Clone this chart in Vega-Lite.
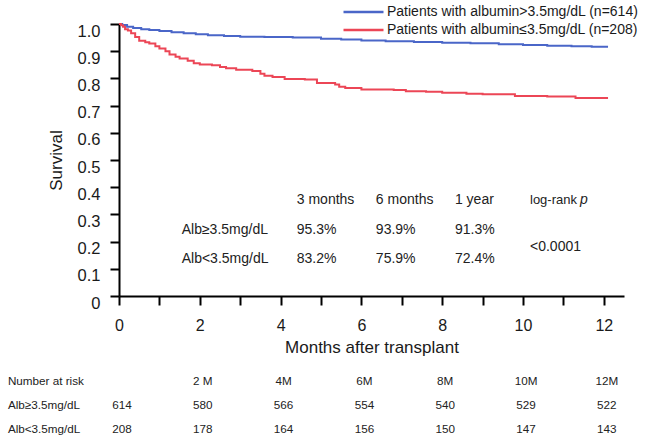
{
  "$schema": "https://vega.github.io/schema/vega-lite/v6.json",
  "width": 505,
  "height": 272,
  "autosize": "none",
  "padding": {"left": 119, "top": 24, "right": 25, "bottom": 147},
  "background": "white",
  "config": {
    "font": "Liberation Sans",
    "view": {"stroke": null},
    "text": {"font": "Liberation Sans", "color": "#222"}
  },
  "datasets": {
    "km": [
      {"group": "Patients with albumin>3.5mg/dL (n=614)", "month": 0, "survival": 1.0},
      {"group": "Patients with albumin>3.5mg/dL (n=614)", "month": 0.08, "survival": 0.996},
      {"group": "Patients with albumin>3.5mg/dL (n=614)", "month": 0.2, "survival": 0.99},
      {"group": "Patients with albumin>3.5mg/dL (n=614)", "month": 0.35, "survival": 0.985},
      {"group": "Patients with albumin>3.5mg/dL (n=614)", "month": 0.55, "survival": 0.981},
      {"group": "Patients with albumin>3.5mg/dL (n=614)", "month": 0.75, "survival": 0.978},
      {"group": "Patients with albumin>3.5mg/dL (n=614)", "month": 1.0, "survival": 0.974},
      {"group": "Patients with albumin>3.5mg/dL (n=614)", "month": 1.3, "survival": 0.97},
      {"group": "Patients with albumin>3.5mg/dL (n=614)", "month": 1.6, "survival": 0.966},
      {"group": "Patients with albumin>3.5mg/dL (n=614)", "month": 1.9, "survival": 0.962},
      {"group": "Patients with albumin>3.5mg/dL (n=614)", "month": 2.2, "survival": 0.959},
      {"group": "Patients with albumin>3.5mg/dL (n=614)", "month": 2.6, "survival": 0.956},
      {"group": "Patients with albumin>3.5mg/dL (n=614)", "month": 3.0, "survival": 0.953},
      {"group": "Patients with albumin>3.5mg/dL (n=614)", "month": 3.6, "survival": 0.952},
      {"group": "Patients with albumin>3.5mg/dL (n=614)", "month": 4.3, "survival": 0.95},
      {"group": "Patients with albumin>3.5mg/dL (n=614)", "month": 5.0, "survival": 0.946},
      {"group": "Patients with albumin>3.5mg/dL (n=614)", "month": 5.5, "survival": 0.943},
      {"group": "Patients with albumin>3.5mg/dL (n=614)", "month": 6.0, "survival": 0.939},
      {"group": "Patients with albumin>3.5mg/dL (n=614)", "month": 6.6, "survival": 0.937},
      {"group": "Patients with albumin>3.5mg/dL (n=614)", "month": 7.3, "survival": 0.934},
      {"group": "Patients with albumin>3.5mg/dL (n=614)", "month": 8.0, "survival": 0.931},
      {"group": "Patients with albumin>3.5mg/dL (n=614)", "month": 8.7, "survival": 0.929},
      {"group": "Patients with albumin>3.5mg/dL (n=614)", "month": 9.4, "survival": 0.926},
      {"group": "Patients with albumin>3.5mg/dL (n=614)", "month": 10.0, "survival": 0.923},
      {"group": "Patients with albumin>3.5mg/dL (n=614)", "month": 10.6, "survival": 0.92},
      {"group": "Patients with albumin>3.5mg/dL (n=614)", "month": 11.2, "survival": 0.918},
      {"group": "Patients with albumin>3.5mg/dL (n=614)", "month": 11.7, "survival": 0.916},
      {"group": "Patients with albumin>3.5mg/dL (n=614)", "month": 12.08, "survival": 0.913},
      {"group": "Patients with albumin≤3.5mg/dL (n=208)", "month": 0, "survival": 1.0},
      {"group": "Patients with albumin≤3.5mg/dL (n=208)", "month": 0.05, "survival": 0.995},
      {"group": "Patients with albumin≤3.5mg/dL (n=208)", "month": 0.1, "survival": 0.99},
      {"group": "Patients with albumin≤3.5mg/dL (n=208)", "month": 0.15, "survival": 0.981},
      {"group": "Patients with albumin≤3.5mg/dL (n=208)", "month": 0.22, "survival": 0.976},
      {"group": "Patients with albumin≤3.5mg/dL (n=208)", "month": 0.3, "survival": 0.966},
      {"group": "Patients with albumin≤3.5mg/dL (n=208)", "month": 0.4, "survival": 0.952},
      {"group": "Patients with albumin≤3.5mg/dL (n=208)", "month": 0.5, "survival": 0.938},
      {"group": "Patients with albumin≤3.5mg/dL (n=208)", "month": 0.65, "survival": 0.933},
      {"group": "Patients with albumin≤3.5mg/dL (n=208)", "month": 0.75, "survival": 0.928},
      {"group": "Patients with albumin≤3.5mg/dL (n=208)", "month": 0.9, "survival": 0.918},
      {"group": "Patients with albumin≤3.5mg/dL (n=208)", "month": 1.0, "survival": 0.91},
      {"group": "Patients with albumin≤3.5mg/dL (n=208)", "month": 1.15, "survival": 0.9},
      {"group": "Patients with albumin≤3.5mg/dL (n=208)", "month": 1.25, "survival": 0.888},
      {"group": "Patients with albumin≤3.5mg/dL (n=208)", "month": 1.4, "survival": 0.88},
      {"group": "Patients with albumin≤3.5mg/dL (n=208)", "month": 1.5, "survival": 0.873},
      {"group": "Patients with albumin≤3.5mg/dL (n=208)", "month": 1.7, "survival": 0.865},
      {"group": "Patients with albumin≤3.5mg/dL (n=208)", "month": 1.85, "survival": 0.856},
      {"group": "Patients with albumin≤3.5mg/dL (n=208)", "month": 2.0, "survival": 0.851},
      {"group": "Patients with albumin≤3.5mg/dL (n=208)", "month": 2.3, "survival": 0.848},
      {"group": "Patients with albumin≤3.5mg/dL (n=208)", "month": 2.5, "survival": 0.842},
      {"group": "Patients with albumin≤3.5mg/dL (n=208)", "month": 2.65, "survival": 0.837},
      {"group": "Patients with albumin≤3.5mg/dL (n=208)", "month": 2.9, "survival": 0.832},
      {"group": "Patients with albumin≤3.5mg/dL (n=208)", "month": 3.3, "survival": 0.827},
      {"group": "Patients with albumin≤3.5mg/dL (n=208)", "month": 3.5, "survival": 0.817},
      {"group": "Patients with albumin≤3.5mg/dL (n=208)", "month": 3.6, "survival": 0.81},
      {"group": "Patients with albumin≤3.5mg/dL (n=208)", "month": 3.8, "survival": 0.805},
      {"group": "Patients with albumin≤3.5mg/dL (n=208)", "month": 4.1, "survival": 0.798},
      {"group": "Patients with albumin≤3.5mg/dL (n=208)", "month": 4.6, "survival": 0.796},
      {"group": "Patients with albumin≤3.5mg/dL (n=208)", "month": 4.9, "survival": 0.783},
      {"group": "Patients with albumin≤3.5mg/dL (n=208)", "month": 5.35, "survival": 0.778},
      {"group": "Patients with albumin≤3.5mg/dL (n=208)", "month": 5.45, "survival": 0.769},
      {"group": "Patients with albumin≤3.5mg/dL (n=208)", "month": 5.6, "survival": 0.765},
      {"group": "Patients with albumin≤3.5mg/dL (n=208)", "month": 6.0, "survival": 0.759},
      {"group": "Patients with albumin≤3.5mg/dL (n=208)", "month": 6.8, "survival": 0.757},
      {"group": "Patients with albumin≤3.5mg/dL (n=208)", "month": 7.1, "survival": 0.753},
      {"group": "Patients with albumin≤3.5mg/dL (n=208)", "month": 7.6, "survival": 0.751},
      {"group": "Patients with albumin≤3.5mg/dL (n=208)", "month": 8.0, "survival": 0.747},
      {"group": "Patients with albumin≤3.5mg/dL (n=208)", "month": 8.6, "survival": 0.744},
      {"group": "Patients with albumin≤3.5mg/dL (n=208)", "month": 9.0, "survival": 0.742},
      {"group": "Patients with albumin≤3.5mg/dL (n=208)", "month": 9.8, "survival": 0.735},
      {"group": "Patients with albumin≤3.5mg/dL (n=208)", "month": 10.6, "survival": 0.733},
      {"group": "Patients with albumin≤3.5mg/dL (n=208)", "month": 11.3, "survival": 0.728},
      {"group": "Patients with albumin≤3.5mg/dL (n=208)", "month": 12.08, "survival": 0.724}
    ],
    "survtab": [
      {"row": "Alb≥3.5mg/dL", "period": "3 months", "value": "95.3%"},
      {"row": "Alb≥3.5mg/dL", "period": "6 months", "value": "93.9%"},
      {"row": "Alb≥3.5mg/dL", "period": "1 year", "value": "91.3%"},
      {"row": "Alb<3.5mg/dL", "period": "3 months", "value": "83.2%"},
      {"row": "Alb<3.5mg/dL", "period": "6 months", "value": "75.9%"},
      {"row": "Alb<3.5mg/dL", "period": "1 year", "value": "72.4%"}
    ],
    "risk": [
      {"row": "Alb≥3.5mg/dL", "month": 0, "n": 614},
      {"row": "Alb≥3.5mg/dL", "month": 2, "n": 580},
      {"row": "Alb≥3.5mg/dL", "month": 4, "n": 566},
      {"row": "Alb≥3.5mg/dL", "month": 6, "n": 554},
      {"row": "Alb≥3.5mg/dL", "month": 8, "n": 540},
      {"row": "Alb≥3.5mg/dL", "month": 10, "n": 529},
      {"row": "Alb≥3.5mg/dL", "month": 12, "n": 522},
      {"row": "Alb<3.5mg/dL", "month": 0, "n": 208},
      {"row": "Alb<3.5mg/dL", "month": 2, "n": 178},
      {"row": "Alb<3.5mg/dL", "month": 4, "n": 164},
      {"row": "Alb<3.5mg/dL", "month": 6, "n": 156},
      {"row": "Alb<3.5mg/dL", "month": 8, "n": 150},
      {"row": "Alb<3.5mg/dL", "month": 10, "n": 147},
      {"row": "Alb<3.5mg/dL", "month": 12, "n": 143}
    ]
  },
  "resolve": {"scale": {"x": "independent", "y": "independent"}},
  "layer": [
    {
      "data": {"name": "km"},
      "mark": {"type": "line", "interpolate": "step-after", "strokeWidth": 2},
      "encoding": {
        "x": {
          "field": "month", "type": "quantitative",
          "scale": {"domain": [0, 12.5], "nice": false, "zero": false},
          "axis": {
            "values": [0, 1, 2, 3, 4, 5, 6, 7, 8, 9, 10, 11, 12],
            "labelExpr": "datum.value % 2 == 0 ? datum.label : ''",
            "grid": false, "domainColor": "black", "domainWidth": 2,
            "tickColor": "black", "tickWidth": 2, "tickSize": 9,
            "labelFontSize": 16, "labelPadding": 12, "labelColor": "#1a1a1a",
            "labelFlush": false, "labelOverlap": false,
            "title": "Months after transplant", "titleFontSize": 17,
            "titleFontWeight": "normal", "titleColor": "#1a1a1a", "titlePadding": 6
          }
        },
        "y": {
          "field": "survival", "type": "quantitative",
          "scale": {"domain": [0, 1], "nice": false},
          "axis": {
            "values": [0, 0.1, 0.2, 0.3, 0.4, 0.5, 0.6, 0.7, 0.8, 0.9, 1.0],
            "labelExpr": "datum.value == 0 ? '0' : format(datum.value, '.1f')",
            "grid": false, "domainColor": "black", "domainWidth": 2,
            "tickColor": "black", "tickWidth": 2, "tickSize": 9,
            "labelFontSize": 16.5, "labelPadding": 10, "labelColor": "#1a1a1a",
            "labelBaseline": "middle", "labelOffset": 7,
            "labelFlush": false, "labelOverlap": false,
            "title": "Survival", "titleFontSize": 17,
            "titleFontWeight": "normal", "titleColor": "#1a1a1a", "titlePadding": 12
          }
        },
        "color": {
          "field": "group", "type": "nominal",
          "scale": {
            "domain": ["Patients with albumin>3.5mg/dL (n=614)", "Patients with albumin≤3.5mg/dL (n=208)"],
            "range": ["#4a66c8", "#ec4656"]
          },
          "legend": {
            "orient": "none", "legendX": 223, "legendY": -20, "title": null,
            "symbolType": "stroke", "symbolSize": 1600, "symbolStrokeWidth": 2.5,
            "clipHeight": 16, "rowPadding": 2, "padding": 0,
            "labelFontSize": 14, "labelOffset": 2, "labelLimit": 400, "labelColor": "#1a1a1a"
          }
        }
      }
    },
    {
      "layer": [
        {
          "data": {"name": "survtab"},
          "mark": {"type": "text", "align": "left", "baseline": "middle", "fontSize": 14},
          "encoding": {
            "x": {"field": "period", "type": "nominal", "axis": null,
                  "scale": {"type": "point", "domain": ["name", "3 months", "6 months", "1 year", "log-rank p"], "range": [98.7, 415], "padding": 0}},
            "y": {"field": "row", "type": "nominal", "axis": null,
                  "scale": {"type": "point", "domain": ["header", "Alb≥3.5mg/dL", "Alb<3.5mg/dL"], "range": [176, 235.3], "padding": 0}},
            "text": {"field": "value"}
          }
        },
        {
          "data": {"values": [
            {"period": "3 months", "label": "3 months"},
            {"period": "6 months", "label": "6 months"},
            {"period": "1 year", "label": "1 year"}
          ]},
          "mark": {"type": "text", "align": "left", "baseline": "middle", "fontSize": 14},
          "encoding": {
            "x": {"field": "period", "type": "nominal", "axis": null},
            "y": {"datum": "header", "type": "nominal", "axis": null},
            "text": {"field": "label"}
          }
        },
        {
          "data": {"values": [{"period": "log-rank p", "label": "log-rank", "p": "<0.0001"}]},
          "layer": [
            {
              "mark": {"type": "text", "align": "left", "baseline": "middle", "fontSize": 13, "dx": -4},
              "encoding": {
                "x": {"field": "period", "type": "nominal", "axis": null},
                "y": {"datum": "header", "type": "nominal", "axis": null},
                "text": {"field": "label"}
              }
            },
            {
              "mark": {"type": "text", "align": "left", "baseline": "middle", "fontSize": 14, "fontStyle": "italic", "dx": 46},
              "encoding": {
                "x": {"field": "period", "type": "nominal", "axis": null},
                "y": {"datum": "header", "type": "nominal", "axis": null},
                "text": {"value": "p"}
              }
            },
            {
              "mark": {"type": "text", "align": "left", "baseline": "middle", "fontSize": 14, "dx": -4, "dy": -12},
              "encoding": {
                "x": {"field": "period", "type": "nominal", "axis": null},
                "y": {"datum": "Alb<3.5mg/dL", "type": "nominal", "axis": null},
                "text": {"field": "p"}
              }
            }
          ]
        },
        {
          "data": {"values": [{"row": "Alb≥3.5mg/dL"}, {"row": "Alb<3.5mg/dL"}]},
          "mark": {"type": "text", "align": "left", "baseline": "middle", "fontSize": 14, "dx": -36},
          "encoding": {
            "x": {"datum": "name", "type": "nominal", "axis": null},
            "y": {"field": "row", "type": "nominal", "axis": null},
            "text": {"field": "row"}
          }
        }
      ]
    },
    {
      "layer": [
        {
          "data": {"name": "risk"},
          "mark": {"type": "text", "align": "center", "baseline": "middle", "fontSize": 11.7, "dx": 3},
          "encoding": {
            "x": {"field": "month", "type": "quantitative", "axis": null,
                  "scale": {"domain": [0, 12.5], "nice": false, "zero": false}},
            "y": {"field": "row", "type": "nominal", "axis": null,
                  "scale": {"type": "point", "domain": ["Number at risk", "Alb≥3.5mg/dL", "Alb<3.5mg/dL"], "range": [356.7, 405], "padding": 0}},
            "text": {"field": "n"}
          }
        },
        {
          "data": {"values": [
            {"month": 2, "label": "2 M"},
            {"month": 4, "label": "4M"},
            {"month": 6, "label": "6M"},
            {"month": 8, "label": "8M"},
            {"month": 10, "label": "10M"},
            {"month": 12, "label": "12M"}
          ]},
          "mark": {"type": "text", "align": "center", "baseline": "middle", "fontSize": 11.7, "dx": 3},
          "encoding": {
            "x": {"field": "month", "type": "quantitative", "axis": null},
            "y": {"datum": "Number at risk", "type": "nominal", "axis": null},
            "text": {"field": "label"}
          }
        },
        {
          "data": {"values": [{"row": "Number at risk"}, {"row": "Alb≥3.5mg/dL"}, {"row": "Alb<3.5mg/dL"}]},
          "mark": {"type": "text", "align": "left", "baseline": "middle", "fontSize": 11.7},
          "encoding": {
            "x": {"datum": -2.75, "type": "quantitative", "axis": null},
            "y": {"field": "row", "type": "nominal", "axis": null},
            "text": {"field": "row"}
          }
        }
      ]
    }
  ]
}
